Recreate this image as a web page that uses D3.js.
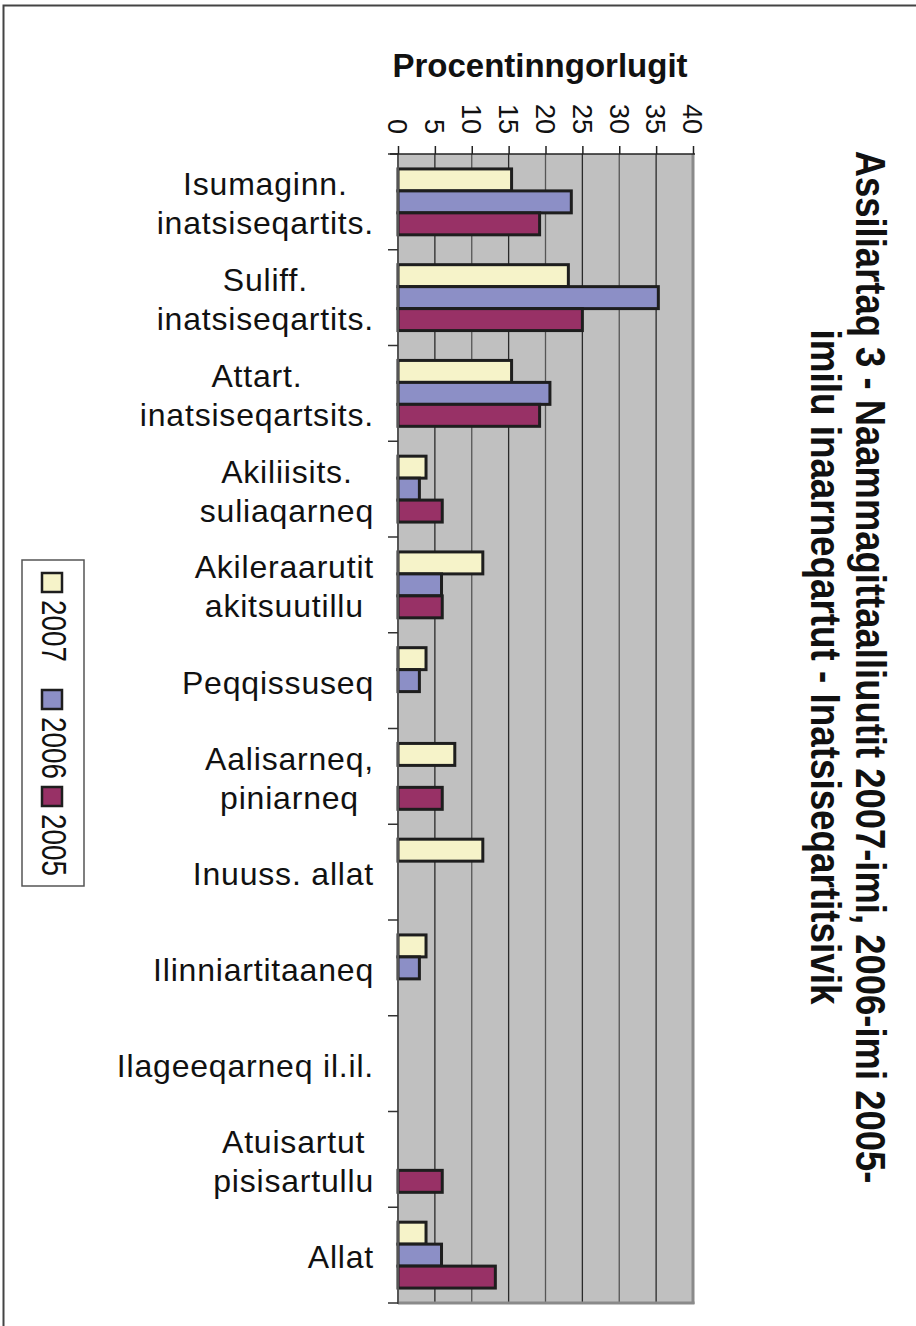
<!DOCTYPE html>
<html>
<head>
<meta charset="utf-8">
<script src="https://cdn.jsdelivr.net/npm/d3@7"></script>
<style>
  html, body { margin: 0; padding: 0; background: #fff; }
  svg { display: block; }
  text { font-family: "Liberation Sans", Arial, sans-serif; fill: #111; }
</style>
</head>
<body>
<svg id="chart" width="916" height="1326"></svg>
<script>
// ---- data ----
const categories = [
  "Isumaginn.\ninatsiseqartits.",
  "Suliff.\ninatsiseqartits.",
  "Attart.\ninatsiseqartsits.",
  "Akiliisits.\nsuliaqarneq",
  "Akileraarutit\nakitsuutillu",
  "Peqqissuseq",
  "Aalisarneq,\npiniarneq",
  "Inuuss. allat",
  "Ilinniartitaaneq",
  "Ilageeqarneq il.il.",
  "Atuisartut\npisisartullu",
  "Allat"
];
const seriesNames = ["2007", "2006", "2005"];
const values2007 = [15.4, 23.1, 15.4, 3.8, 11.5, 3.8, 7.7, 11.5, 3.8, 0, 0, 3.8];
const values2006 = [23.5, 35.3, 20.6, 2.9, 5.9, 2.9, 0, 0, 2.9, 0, 0, 5.9];
const values2005 = [19.2, 25.0, 19.2, 6.0, 6.0, 0, 6.0, 0, 0, 0, 6.0, 13.2];
const tickValues = [0, 5, 10, 15, 20, 25, 30, 35, 40];
const axisTitle = "Procentinngorlugit";
const titleLines = [
  "Assiliartaq 3 - Naammagittaalliuutit 2007-imi, 2006-imi 2005-",
  "imilu inaarneqartut - Inatsiseqartitsivik"
];

const seriesValues = { "2007": values2007, "2006": values2006, "2005": values2005 };
const colors = { "2007": "#f6f3c9", "2006": "#8c8fc6", "2005": "#983166" };

// ---- layout ----
const svg = d3.select("#chart");
const plot = { left: 398, right: 693, top: 154, bottom: 1303 };

// page border
svg.append("rect").attr("x", 3.5).attr("y", 5.5).attr("width", 1000).attr("height", 1400)
  .attr("fill", "none").attr("stroke", "#444").attr("stroke-width", 2);

const x = d3.scaleLinear().domain([0, 40]).range([plot.left, plot.right]);
const y = d3.scaleBand().domain(categories).range([plot.top, plot.bottom]).paddingInner(0).paddingOuter(0);
const ySub = d3.scaleBand().domain(seriesNames).range([0, y.bandwidth()]).paddingInner(0).paddingOuter(0.68);

// plot background
svg.append("rect").attr("x", plot.left).attr("y", plot.top)
  .attr("width", plot.right - plot.left).attr("height", plot.bottom - plot.top)
  .attr("fill", "#c0c0c0");

// gridlines
svg.append("g").selectAll("line").data(tickValues.slice(1, -1)).join("line")
  .attr("x1", d => x(d)).attr("x2", d => x(d))
  .attr("y1", plot.top).attr("y2", plot.bottom)
  .attr("stroke", (d, i) => i % 2 === 0 ? "#2a2a2a" : "#555")
  .attr("stroke-width", 1.3);

// plot frame right & bottom (gray)
svg.append("line").attr("x1", plot.right).attr("x2", plot.right).attr("y1", plot.top).attr("y2", plot.bottom + 1)
  .attr("stroke", "#8a8a8a").attr("stroke-width", 3);
svg.append("line").attr("x1", plot.left).attr("x2", plot.right + 1.5).attr("y1", plot.bottom).attr("y2", plot.bottom)
  .attr("stroke", "#8a8a8a").attr("stroke-width", 3);

// bars
const groups = svg.append("g").selectAll("g").data(categories).join("g")
  .attr("transform", d => `translate(0,${y(d)})`);
groups.selectAll("rect")
  .data((c, ci) => seriesNames.map(s => ({ s, v: seriesValues[s][ci] })).filter(d => d.v > 0))
  .join("rect")
  .attr("x", x(0))
  .attr("y", d => ySub(d.s))
  .attr("width", d => x(d.v) - x(0))
  .attr("height", ySub.bandwidth())
  .attr("fill", d => colors[d.s])
  .attr("stroke", "#1e1e1e")
  .attr("stroke-width", 3);

// left category axis (ticks at boundaries)
const boundaries = categories.map(c => y(c)).concat([plot.bottom]);
svg.append("line").attr("x1", plot.left).attr("x2", plot.left).attr("y1", plot.top).attr("y2", plot.bottom + 1)
  .attr("stroke", "#555").attr("stroke-width", 2);
svg.append("g").selectAll("line").data(boundaries).join("line")
  .attr("x1", plot.left - 10).attr("x2", plot.left)
  .attr("y1", d => d).attr("y2", d => d)
  .attr("stroke", "#333").attr("stroke-width", 1.5);

// top value axis
const xAxis = d3.axisTop(x).tickValues(tickValues).tickSize(8).tickFormat("");
const gx = svg.append("g").attr("transform", `translate(0,${plot.top})`).call(xAxis);
gx.select(".domain").attr("d", `M${plot.left - 8},0H${plot.right + 2}`).attr("stroke", "#222").attr("stroke-width", 1.5);
gx.selectAll(".tick line").attr("stroke", "#222").attr("stroke-width", 1.5);

// tick labels rotated
svg.append("g").selectAll("text").data(tickValues).join("text")
  .attr("transform", d => `translate(${x(d)},134) rotate(90)`)
  .attr("text-anchor", "end")
  .attr("dy", "0.36em")
  .attr("font-size", 27)
  .text(d => d);

// axis title
svg.append("text").attr("x", 540).attr("y", 77).attr("text-anchor", "middle")
  .attr("font-size", 33).attr("font-weight", "bold").text(axisTitle);

// category labels
const lineH = 39;
categories.forEach(c => {
  const lines = c.split("\n");
  const cy = y(c) + y.bandwidth() / 2;
  const g = svg.append("g");
  const texts = lines.map((ln, i) => g.append("text")
    .attr("y", cy - (lines.length - 1) * lineH / 2 + i * lineH + 13)
    .attr("font-size", 32).attr("letter-spacing", 0.8)
    .text(ln));
  const maxW = d3.max(texts, t => t.node().getComputedTextLength());
  texts.forEach(t => t.attr("x", 374 - maxW / 2).attr("text-anchor", "middle"));
});

// main title (rotated, condensed)
const titleX = [856, 811];
const titleLen = [1033, 675];
titleLines.forEach((t, i) => {
  const txt = svg.append("text")
    .attr("text-anchor", "middle")
    .attr("font-size", 43).attr("font-weight", "bold")
    .text(t);
  const natural = txt.node().getComputedTextLength();
  txt.attr("transform", `translate(${titleX[i]},667) rotate(90) scale(${titleLen[i] / natural},1)`);
});

// legend
svg.append("rect").attr("x", 22).attr("y", 560).attr("width", 62).attr("height", 326)
  .attr("fill", "#fff").attr("stroke", "#555").attr("stroke-width", 1.5);
const legY = [573, 690, 787];
seriesNames.forEach((s, i) => {
  svg.append("rect").attr("x", 42).attr("y", legY[i]).attr("width", 20).attr("height", 19)
    .attr("fill", colors[s]).attr("stroke", "#1e1e1e").attr("stroke-width", 2.5);
  const lt = svg.append("text").attr("font-size", 36).text(s);
  const nat = lt.node().getComputedTextLength();
  lt.attr("transform", `translate(42,${legY[i] + 27}) rotate(90) scale(${62 / nat},1)`);
});
</script>
</body>
</html>
